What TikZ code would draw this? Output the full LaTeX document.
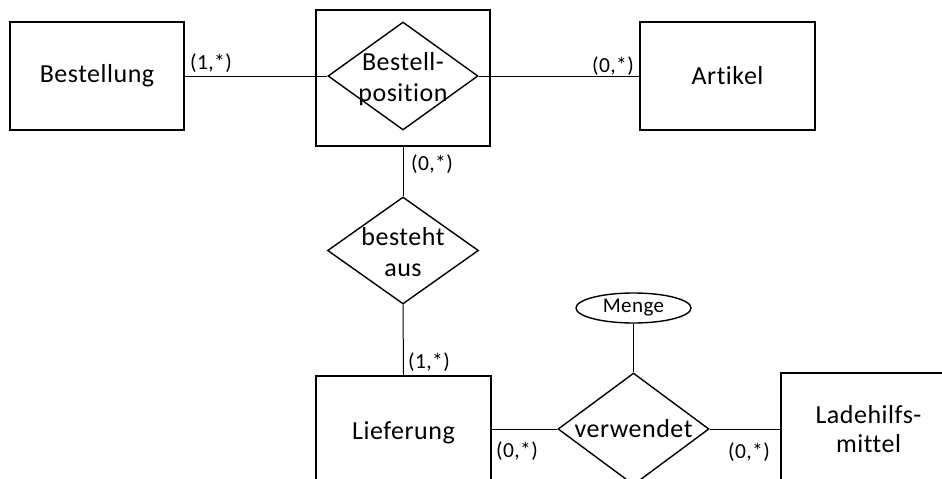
\documentclass[tikz,border=0pt]{standalone}
\usepackage{fontspec}
\setmainfont{Carlito}[Ligatures={NoCommon,NoRare,NoDiscretionary},LetterSpace=2]
\usetikzlibrary{shapes.geometric}
\begin{document}
\begin{tikzpicture}[x=1pt,y=-1pt,
  entity/.style={draw,line width=1.6pt,rectangle,inner sep=0pt,align=center,
    font=\fontsize{26}{29}\selectfont},
  relation/.style={draw,line width=1.4pt,diamond,inner sep=0pt},
  reltext/.style={align=center,inner sep=0pt,font=\fontsize{26}{31}\selectfont},
  attribute/.style={draw,line width=1.4pt,ellipse,inner sep=0pt,
    font=\fontsize{21}{25}\selectfont},
  conn/.style={line width=1pt},
  card/.style={inner sep=0pt,font=\fontsize{21.5}{25}\selectfont}]
\useasboundingbox[fill=white] (0,0) rectangle (942,479);

% entities
\node[entity,minimum width=174pt,minimum height=108pt] (best) at (97,76) {Bestellung};
\node[entity,minimum width=174pt,minimum height=136pt] (bp) at (403,78) {};
\node[entity,minimum width=175pt,minimum height=108pt] (art) at (727.5,76) {Artikel};
\node[entity,minimum width=175pt,minimum height=114pt] (lief) at (403.5,433) {Lieferung};
\node[entity,minimum width=175pt,minimum height=112pt] (lhm) at (868.5,429) {Ladehilfs-\\mittel};

% relationships
\node[relation,minimum width=150pt,minimum height=108pt] (bpd) at (403,76) {};
\node[reltext] (bpdt) at (403,79) {Bestell-\\position};
\node[relation,minimum width=151pt,minimum height=107pt] (ba) at (403,250.5) {};
\node[reltext] (bat) at (403,252) {besteht\\aus};
\node[relation,minimum width=151pt,minimum height=112pt] (verw) at (633.5,429) {};
\node[reltext] (verwt) at (633.5,429) {verwendet};

% attribute
\node[attribute,minimum width=115pt,minimum height=30pt] (menge) at (633.5,308) {Menge};

% connectors
\draw[conn] (best.east) -- (bpd.west);
\draw[conn] (bpd.east) -- (art.west);
\draw[conn] (bp.south) -- (ba.north);
\draw[conn] (ba.south) -- (lief.north);
\draw[conn] (verw.west) -- (verw.west -| lief.east);
\draw[conn] (verw.east) -- (verw.east -| lhm.west);
\draw[conn] (menge.south) -- (verw.north);

% cardinalities
\node[card] (c1) at (211,63) {(1,*)};
\node[card] (c2) at (613,66) {(0,*)};
\node[card] (c3) at (432,164) {(0,*)};
\node[card] (c4) at (429,362) {(1,*)};
\node[card] (c5) at (517,451) {(0,*)};
\node[card] (c6) at (749,452) {(0,*)};
\end{tikzpicture}
\end{document}
